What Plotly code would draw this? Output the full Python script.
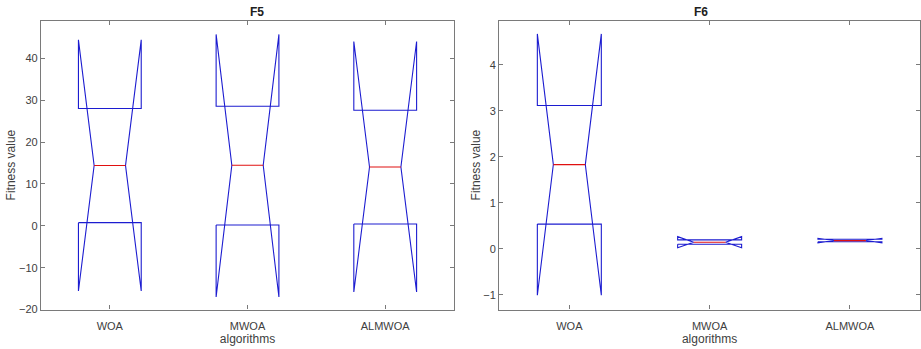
import plotly.graph_objects as go

categories = ["WOA", "MWOA", "ALMWOA"]

# F5 statistics
f5_q1 = [0.75, 0.19, 0.42]
f5_q3 = [28.0, 28.55, 27.6]
f5_med = [14.4, 14.45, 14.05]
f5_nlo = [-15.56, -17.0, -15.8]
f5_nhi = [44.4, 45.7, 44.0]

# F6 statistics
f6_q1 = [0.537, 0.10, 0.152]
f6_q3 = [3.115, 0.195, 0.207]
f6_med = [1.83, 0.143, 0.179]
f6_nlo = [-1.01, 0.023, 0.13]
f6_nhi = [4.67, 0.265, 0.229]

BOX_HALF = 0.228
BLUE = "#1c1cd0"
RED = "#e01010"
AXIS_GREY = "#7a7a7a"
TICK_TXT = "#404040"
FONT = "Liberation Sans, Arial, sans-serif"
W, H = 921, 349

fig = go.Figure()


def add_boxes(q1, q3, med, nlo, nhi, xref, yref):
    for i in range(len(categories)):
        c = i + 1
        w = BOX_HALF
        xs = [c - w, c - w, c - w / 2, c - w, c - w, c + w, c + w, c + w / 2, c + w, c + w, c - w]
        ys = [q1[i], nlo[i], med[i], nhi[i], q3[i], q3[i], nhi[i], med[i], nlo[i], q1[i], q1[i]]
        fig.add_trace(go.Scatter(x=xs, y=ys, mode="lines", line=dict(color=BLUE, width=1.1),
                                 xaxis=xref, yaxis=yref, showlegend=False, hoverinfo="skip"))
        fig.add_trace(go.Scatter(x=[c - w / 2, c + w / 2], y=[med[i], med[i]], mode="lines",
                                 line=dict(color=RED, width=1.1),
                                 xaxis=xref, yaxis=yref, showlegend=False, hoverinfo="skip"))


add_boxes(f5_q1, f5_q3, f5_med, f5_nlo, f5_nhi, "x", "y")
add_boxes(f6_q1, f6_q3, f6_med, f6_nlo, f6_nhi, "x2", "y2")

xcommon = dict(range=[0.5, 3.5], tickvals=[1, 2, 3], ticktext=categories,
               ticks="inside", ticklen=4, tickcolor=AXIS_GREY, showline=True, linecolor=AXIS_GREY,
               linewidth=1.3, mirror="ticks", showgrid=False, zeroline=False,
               ticklabelstandoff=6,
               tickfont=dict(family=FONT, size=11, color=TICK_TXT),
               title=dict(text="algorithms", font=dict(family=FONT, size=12, color=TICK_TXT), standoff=2))
ycommon = dict(ticks="inside", ticklen=4, tickcolor=AXIS_GREY, showline=True, linecolor=AXIS_GREY,
               linewidth=1.3, mirror="ticks", showgrid=False, zeroline=False,
               tickfont=dict(family=FONT, size=11, color=TICK_TXT),
               title=dict(text="Fitness value", font=dict(family=FONT, size=12, color=TICK_TXT), standoff=0))

fig.update_layout(
    width=W, height=H,
    margin=dict(l=0, r=0, t=0, b=0),
    paper_bgcolor="white", plot_bgcolor="white",
    hovermode=False,
    xaxis=dict(domain=[0.0445, 0.493], anchor="y", **xcommon),
    yaxis=dict(domain=[0.0975, 0.94], anchor="x", range=[-20, 49],
               tickvals=[-20, -10, 0, 10, 20, 30, 40], **ycommon),
    xaxis2=dict(domain=[0.542, 0.999], anchor="y2", **xcommon),
    yaxis2=dict(domain=[0.0975, 0.94], anchor="x2", range=[-1.32, 4.96],
                tickvals=[-1, 0, 1, 2, 3, 4], **ycommon),
    annotations=[
        dict(text="<b>F5</b>", x=(0.0445 + 0.493) / 2, y=1 - 12 / H, xref="paper", yref="paper",
             yanchor="middle", showarrow=False, font=dict(family=FONT, size=12, color="#202020")),
        dict(text="<b>F6</b>", x=(0.542 + 0.999) / 2, y=1 - 12 / H, xref="paper", yref="paper",
             yanchor="middle", showarrow=False, font=dict(family=FONT, size=12, color="#202020")),
    ],
)

fig.write_html("out.html", config={"displayModeBar": False},
               post_script="document.body.style.margin='0';document.body.style.overflow='hidden';")
